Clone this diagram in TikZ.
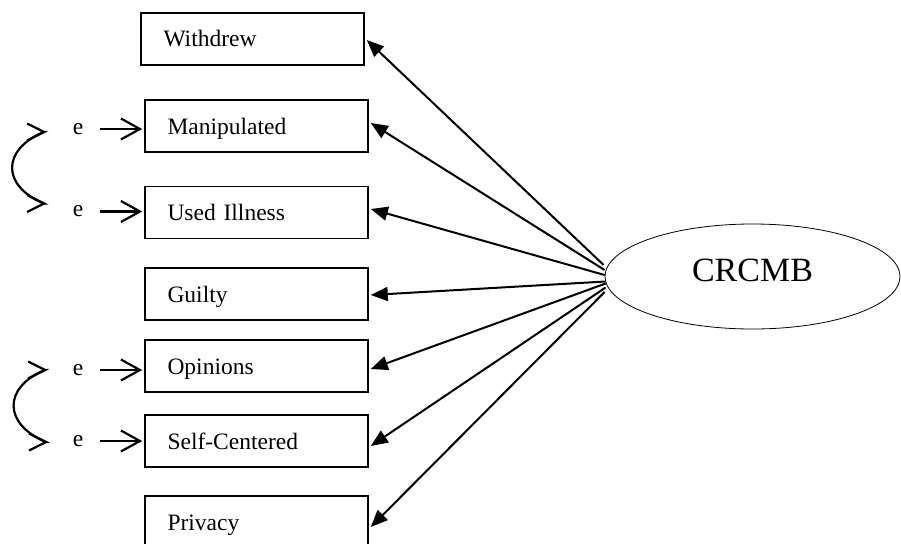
\documentclass[tikz,border=0pt]{standalone}
\usepackage{fontspec}
\setmainfont{Liberation Serif}
\usetikzlibrary{arrows.meta,shapes.geometric,calc}
\begin{document}
\begin{tikzpicture}[x=1pt,y=-1pt,
  obs/.style={draw, line width=1.6pt, text width=178pt, inner xsep=22.5pt, inner ysep=0pt,
    minimum height=52pt, align=left, text height=18pt, text depth=2pt,
    font=\fontsize{23.5}{28}\selectfont},
  errnode/.style={inner sep=0pt, font=\fontsize{23.5}{28}\selectfont},
  latent/.style={draw, ellipse, line width=0.8pt, minimum width=295pt, minimum height=105pt,
    inner sep=0pt, text height=24pt, text depth=15pt, font=\fontsize{34}{40}\selectfont},
  load/.style={-{Triangle[length=17pt,width=14pt]}, line width=2pt},
  erra/.style={-{Straight Barb[length=19pt,width=21pt]}, line width=2.2pt, shorten >=2pt},
  corr/.style={{Straight Barb[length=17pt,width=17pt]}-{Straight Barb[length=17pt,width=17pt]}, line width=2.2pt}]
\useasboundingbox (0,0) rectangle (901,543);
% observed variables
\node[obs] (w) at (252.5,39) {Withdrew};
\node[obs] (m) at (256.5,126) {Manipulated};
\node[obs] (u) at (256.5,212.5) {Used Illness};
\node[obs] (g) at (256.5,294) {Guilty};
\node[obs] (o) at (256.5,366) {Opinions};
\node[obs] (s) at (256.5,441) {Self-Centered};
\node[obs] (p) at (256.5,522) {Privacy};
% latent
\node[latent] (lat) at (752.5,276.5) {CRCMB};
% error terms
\node[errnode] (e1) at (78,129) {e};
\node[errnode] (e2) at (78,211.5) {e};
\node[errnode] (e3) at (78,370) {e};
\node[errnode] (e4) at (78,441) {e};
\draw[erra] ($(e1.east)+(17,0)$) -- (e1.east -| m.west);
\draw[erra] ($(e2.east)+(17,0)$) -- (e2.east -| u.west);
\draw[erra] ($(e3.east)+(17,0)$) -- (e3.east -| o.west);
\draw[erra] ($(e4.east)+(17,0)$) -- (e4.east -| s.west);
% correlations
\draw[corr] ($(e1.west)+(-26,3)$) -- ++(-3,0) .. controls +(-42,18) and +(-42,-18) .. ($(e2.west)+(-29,-8)$) -- ++(3,0);
\draw[corr] ($(e3.west)+(-25,0)$) -- ++(-3,0) .. controls +(-42,18) and +(-42,-18) .. ($(e4.west)+(-27,1)$) -- ++(3,0);
% loadings
\draw[load] ($(lat.west)+(-1,-11.5)$) -- ($(w.east)+(2,1)$);
\draw[load] ($(lat.west)+(0,-6.5)$) -- ($(m.east)+(2,-3)$);
\draw[load] ($(lat.west)+(0,-1.5)$) -- ($(u.east)+(2,-3.5)$);
\draw[load] ($(lat.west)+(1,5)$) -- ($(g.east)+(2,1)$);
\draw[load] ($(lat.west)+(1,7)$) -- ($(o.east)+(2,3)$);
\draw[load] ($(lat.west)+(1,11)$) -- ($(s.east)+(2,5)$);
\draw[load] ($(lat.west)+(0,15.5)$) -- ($(p.east)+(2,5)$);
\end{tikzpicture}
\end{document}
